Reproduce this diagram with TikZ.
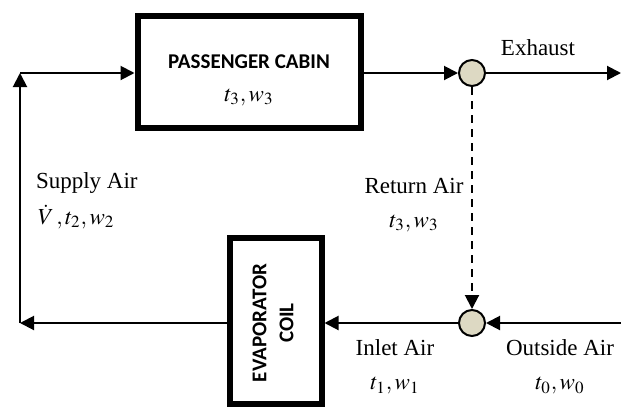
\documentclass[tikz,border=0pt]{standalone}
\usepackage{mathptmx}
\usepackage{fontspec}
\setmainfont{Liberation Serif}
\newfontfamily\boxfont{Carlito}
\usetikzlibrary{positioning,arrows.meta}

\definecolor{mixfill}{HTML}{DDD9C3}

\begin{document}
\begin{tikzpicture}[
x=0.5pt,y=-0.5pt,
line width=1pt,
>={Triangle[length=7pt,width=7pt]},
unit/.style={draw,line width=3pt,inner sep=0pt,align=center},
mixer/.style={draw,circle,fill=mixfill,minimum size=13pt,inner sep=0pt},
lbl/.style={inner sep=0pt,align=center,font=\fontsize{11.5}{17}\selectfont}]
\useasboundingbox (0,0) rectangle (621,408);
% components
\node[unit,minimum width=111.5pt,minimum height=56pt] (cabin) at (249,71.5) {};
\node[font=\boxfont\bfseries\fontsize{10.5}{12}\selectfont] (cabintxt) at (249,62) {PASSENGER CABIN};
\node[lbl] (cabinst) at (249,97) {$t_3, w_3$};
\node[unit,minimum width=46pt,minimum height=83pt] (coil) at (275.5,321) {};
\node[rotate=90,align=center,font=\boxfont\bfseries\fontsize{10.5}{13.5}\selectfont] (coiltxt) at (273,323) {EVAPORATOR\\COIL};
\node[mixer] (mixout) at (472,73) {};
\node[mixer] (mixin) at (472,323) {};
\coordinate (tl) at (20,73);
\coordinate (bl) at (20,323);
\coordinate (exh) at (621,73);
\coordinate (oa) at (621,323);
% flows
\draw[->] (bl) -- (tl);
\draw[->] (tl) -- (cabin.west |- tl);
\draw[->] (cabin.east |- mixout) -- (mixout);
\draw[->] (mixout) -- (exh);
\draw[->,dashed,dash pattern=on 4pt off 3pt] (mixout) -- (mixin);
\draw[->] (oa) -- (mixin);
\draw[->] (mixin) -- (coil.east |- mixin);
\draw[->] (coil.west |- bl) -- (bl);
% labels
\node[lbl,anchor=west] (supply) at (35,183) {Supply Air};
\node[lbl,anchor=west] (supplyst) at (37,217) {$\dot{V}\,, t_2, w_2$};
\node[lbl] (ret) at (414,205) {Return Air\\$t_3, w_3$};
\node[lbl] (exhtxt) at (538,48) {Exhaust};
\node[lbl] (inlet) at (395,367) {Inlet Air\\$t_1, w_1$};
\node[lbl] (outside) at (560,367) {Outside Air\\$t_0, w_0$};
\end{tikzpicture}
\end{document}
